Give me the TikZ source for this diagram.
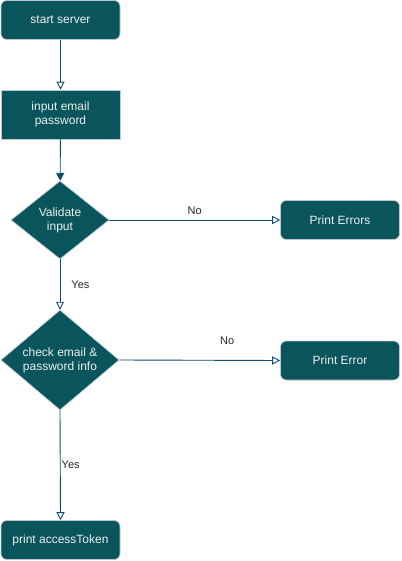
\documentclass[tikz,border=0pt]{standalone}
\usepackage{fontspec}
\setmainfont{Liberation Sans}
\usetikzlibrary{shapes.geometric,arrows.meta}
\definecolor{boxfill}{HTML}{09555B}
\definecolor{boxline}{HTML}{BAC8D3}
\definecolor{boxtext}{HTML}{EEEEEE}
\definecolor{edgecol}{HTML}{0B4D6A}
\tikzset{
  px/.style={x=1pt,y=-1pt},
  procbox/.style={draw=boxline,fill=boxfill,text=boxtext,line width=0.6pt,minimum width=119pt,minimum height=39pt,inner sep=0pt,align=center,font=\fontsize{12pt}{14pt}\selectfont},
  roundbox/.style={procbox,rounded corners=6pt},
  decision/.style={diamond,draw=boxline,fill=boxfill,text=boxtext,line width=0.6pt,inner sep=0pt,align=center,font=\fontsize{12pt}{14pt}\selectfont},
  flow/.style={draw=edgecol,line width=0.9pt,-{Triangle[open,length=8pt,width=8pt]}},
  flowfill/.style={draw=edgecol,line width=0.9pt,-{Triangle[length=8pt,width=8pt]}},
  lbl/.style={font=\fontsize{11pt}{13pt}\selectfont,text=black!85,inner sep=1pt}
}
\begin{document}
\begin{tikzpicture}[px]
\useasboundingbox (0,0) rectangle (401,561);
\node[roundbox] (start) at (60.5,20) {start server};
\node[procbox,minimum height=49pt] (input) at (60.5,114.5) {input email\\password};
\node[decision,minimum width=98pt,minimum height=78pt] (valid) at (60,220) {Validate\\input};
\node[roundbox] (errs) at (340,220) {Print Errors};
\node[decision,minimum width=118pt,minimum height=98pt] (check) at (60,360) {check email \&\\password info};
\node[roundbox] (err) at (340,360.5) {Print Error};
\node[roundbox] (token) at (60.5,540) {print accessToken};
\draw[flow] (start) -- (input);
\draw[flowfill] (input) -- (valid);
\draw[flow] (valid.east) -- node[lbl,pos=0.5,above=4pt] (no1) {No} (errs.west);
\draw[flow] (valid.south) -- node[lbl,pos=0.5,right=10pt] (yes1) {Yes} (check.north);
\draw[flow] (check.east) -- node[lbl,pos=0.67,above=14pt] (no2) {No} (err.west);
\draw[flow] (check.south) -- node[lbl,pos=0.5,right=0pt] (yes2) {Yes} (token.north);
\end{tikzpicture}
\end{document}
